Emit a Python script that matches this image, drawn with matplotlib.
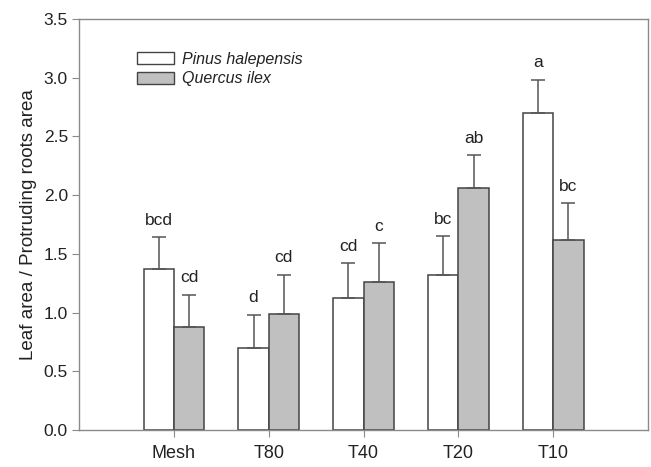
import numpy as np
import matplotlib.pyplot as plt
import matplotlib.patches as mpatches

plt.rcParams['font.family'] = ['Liberation Sans', 'DejaVu Sans']

# values
categories = ["Mesh", "T80", "T40", "T20", "T10"]
pinus_mean = [1.37, 0.70, 1.12, 1.32, 2.70]
pinus_err = [0.27, 0.28, 0.30, 0.33, 0.28]
pinus_letters = ["bcd", "d", "cd", "bc", "a"]
quercus_mean = [0.88, 0.99, 1.26, 2.06, 1.62]
quercus_err = [0.27, 0.33, 0.33, 0.28, 0.31]
quercus_letters = ["cd", "cd", "c", "ab", "bc"]

ink = "#222222"
edge = "#444444"
frame = "#8a8a8a"
grey_fill = "#c0c0c0"

fig = plt.figure(figsize=(6.51, 4.67), dpi=100)
ax = fig.add_axes([0.1214, 0.0792, 0.8740, 0.8801])

x = np.arange(len(categories))
w = 0.32

for off, means, errs, letters, fc in [
    (-w / 2, pinus_mean, pinus_err, pinus_letters, "white"),
    (w / 2, quercus_mean, quercus_err, quercus_letters, grey_fill),
]:
    ax.bar(x + off, means, width=w, color=fc, edgecolor=edge, linewidth=1.1, zorder=2)
    ax.errorbar(x + off, means, yerr=[np.zeros(len(errs)), errs], fmt="none",
                ecolor="#555555", elinewidth=1.1, capsize=5, capthick=1.1, zorder=3)
    for xi, m, e, lab in zip(x + off, means, errs, letters):
        ax.annotate(lab, (xi, m + e), xytext=(0, 7), textcoords="offset points",
                    ha="center", va="bottom", fontsize=12.5, color=ink)

ax.set_xlim(-1.0, 5.0)
ax.set_ylim(0, 3.5)
ax.set_yticks(np.arange(0, 3.51, 0.5))
ax.set_yticklabels([f"{v:.1f}" for v in np.arange(0, 3.51, 0.5)])
ax.set_xticks(x)
ax.set_xticklabels(categories)

for sp in ax.spines.values():
    sp.set_color(frame)
    sp.set_linewidth(1.0)
ax.tick_params(axis="both", colors=frame, labelcolor=ink, direction="out", length=5)
ax.tick_params(axis="x", labelsize=13, pad=6)
ax.tick_params(axis="y", labelsize=12.5, pad=3)

ax.set_ylabel("Leaf area / Protruding roots area", fontsize=13.5, color=ink, labelpad=5)

handles = [
    mpatches.Patch(facecolor="white", edgecolor=edge, label="Pinus halepensis"),
    mpatches.Patch(facecolor=grey_fill, edgecolor=edge, label="Quercus ilex"),
]
leg = ax.legend(handles=handles, loc="upper left", bbox_to_anchor=(0.088, 0.94),
                frameon=False, fontsize=11.5, handlelength=2.3, handleheight=0.75,
                handletextpad=0.5, labelspacing=0.3, borderpad=0)
for t in leg.get_texts():
    t.set_fontstyle("italic")
    t.set_color(ink)

fig.savefig("out.png", dpi=100)
